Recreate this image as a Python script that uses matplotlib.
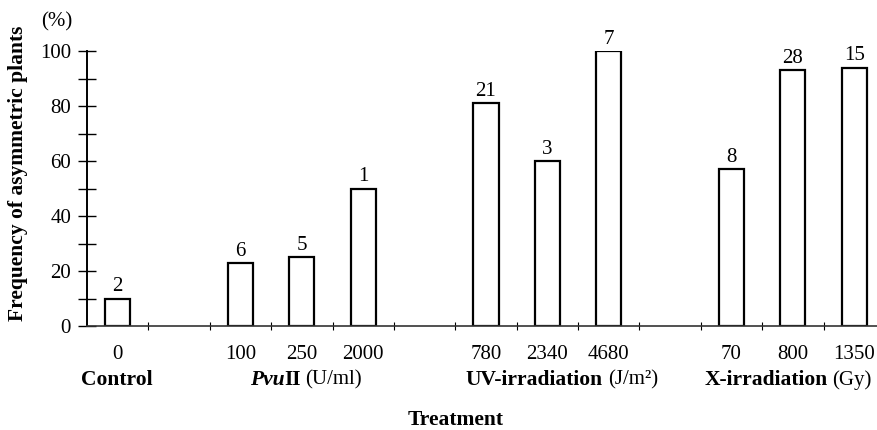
import matplotlib
matplotlib.use("Agg")
import matplotlib.pyplot as plt
import numpy as np

## Data -------------------------------------------------------------------------
slots = [0, 2, 3, 4, 6, 7, 8, 10, 11, 12]
dose_labels = ['0', '100', '250', '2000', '780', '2340', '4680', '70', '800', '1350']
freq = [10, 23, 25, 50, 81, 60, 100, 57, 93, 94]
n_plants = ['2', '6', '5', '1', '21', '3', '7', '8', '28', '15']

W, H = 877, 430
plt.rcParams['font.family'] = ['Liberation Serif', 'DejaVu Serif']
fs = 15      # numbers
fs_b = 15.5  # bold labels

fig = plt.figure(figsize=(W/100, H/100), dpi=100)
ax = fig.add_axes([87/W, 1 - 326/H, (877 - 87)/W, (326 - 51)/H])

ax.bar(slots, freq, width=0.41, facecolor='white', edgecolor='black', linewidth=1.6)
for s, v, n in zip(slots, freq, n_plants):
    ax.text(s, v + 0.8, n, ha='center', va='bottom', fontsize=fs)

ax.set_xlim(-0.5, 12.37)
ax.set_ylim(0, 100)
ax.spines['top'].set_visible(False)
ax.spines['right'].set_visible(False)
ax.spines['left'].set_linewidth(1.4)
ax.spines['bottom'].set_linewidth(1.2)
ax.spines['bottom'].set_color('#333333')

ax.set_yticks(np.arange(0, 101, 20))
ax.set_yticks(np.arange(10, 100, 20), minor=True)
ax.tick_params(axis='y', which='both', direction='inout', length=13, width=1.0, labelsize=fs, pad=5)

ax.set_xticks(slots)
ax.set_xticklabels(dose_labels)
ax.set_xticks(np.arange(0.5, 12.5, 1), minor=True)
ax.tick_params(axis='x', which='major', length=0, labelsize=fs, pad=14)
ax.tick_params(axis='x', which='minor', direction='inout', length=6, width=0.8)

## Text around the axes ---------------------------------------------------------
def fx(x):
    return x / W

def fy(y):
    return 1 - y / H

fig.text(fx(57), fy(22), '(%)', ha='center', va='center', fontsize=fs)
fig.text(fx(18), fy(173), 'Frequency of asymmetric plants', rotation=90,
         ha='center', va='center', fontsize=fs_b, fontweight='bold')
fig.text(fx(456), fy(420), 'Treatment', ha='center', va='center', fontsize=fs_b, fontweight='bold')


def rich_text(xc, y, parts):
    """ Put several text pieces side by side, centred at xc """
    renderer = fig.canvas.get_renderer()
    texts, gaps = [], []
    for s, kw, gap in parts:
        t = fig.text(0, fy(y), s, va='center', ha='left', **kw)
        texts.append(t)
        gaps.append(gap)
    widths = [t.get_window_extent(renderer).width for t in texts]
    total = sum(widths) + sum(gaps)
    x = xc - total / 2
    for t, w, g in zip(texts, widths, gaps):
        t.set_x(fx(x))
        x += w + g


group_y = 380
rich_text(117, group_y, [('Control', dict(fontweight='bold', fontsize=fs_b), 0)])
rich_text(306, group_y, [('Pvu', dict(fontweight='bold', fontstyle='italic', fontsize=fs_b), 0),
                         ('II', dict(fontweight='bold', fontsize=fs_b), 4),
                         ('(U/ml)', dict(fontsize=fs), 0)])
rich_text(562, group_y, [('UV-irradiation', dict(fontweight='bold', fontsize=fs_b), 5),
                         ('(J/m²)', dict(fontsize=fs), 0)])
rich_text(788, group_y, [('X-irradiation', dict(fontweight='bold', fontsize=fs_b), 4),
                         ('(Gy)', dict(fontsize=fs), 0)])

fig.savefig('out.png', dpi=100)
